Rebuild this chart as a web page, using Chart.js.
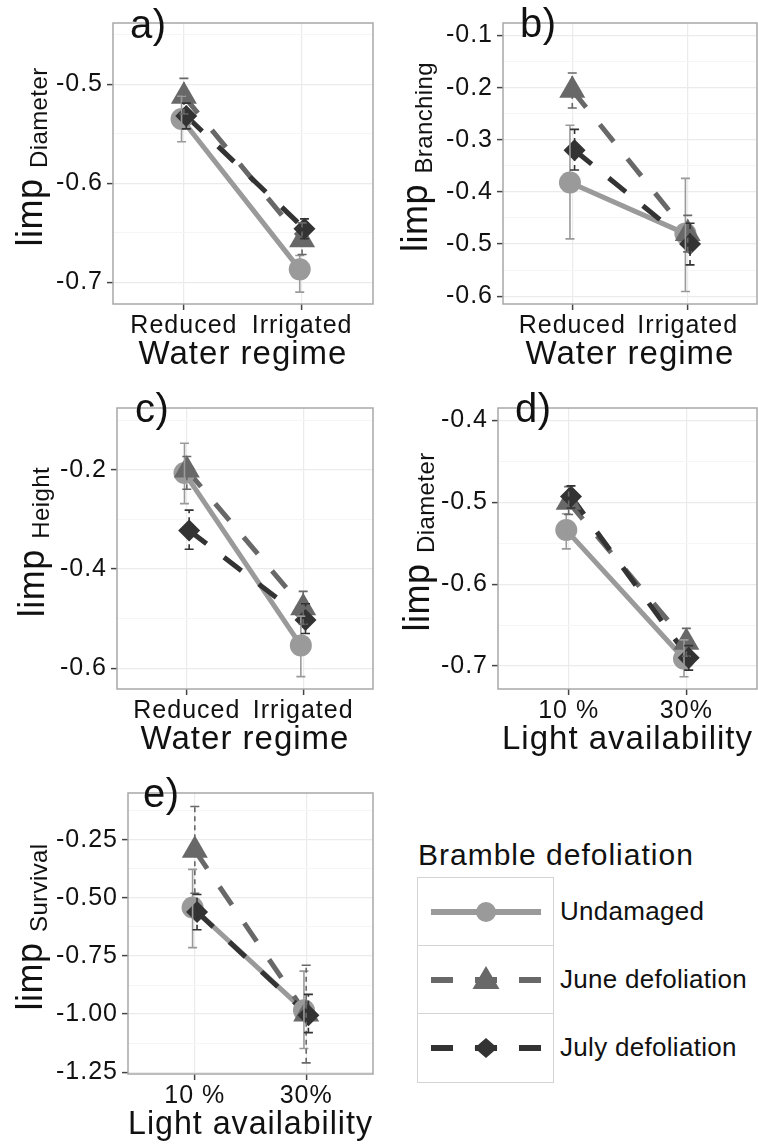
<!DOCTYPE html>
<html><head><meta charset="utf-8">
<script src="https://cdn.jsdelivr.net/npm/chart.js@4.4.1/dist/chart.umd.min.js"></script>
<style>
html,body{margin:0;padding:0;width:758px;height:1146px;overflow:hidden;background:#fff;}
body{position:relative;font-family:'Liberation Sans',Arial,sans-serif;color:#111;}
canvas{position:absolute;}
.ytitle{position:absolute;height:44px;line-height:44px;text-align:center;font-size:36px;transform:rotate(-90deg);white-space:nowrap;letter-spacing:0.5px;}
.ytitle span{font-size:24px;position:relative;top:5px;letter-spacing:0.4px;}
.plabel{position:absolute;font-size:40px;line-height:40px;white-space:nowrap;letter-spacing:0.5px;}
.legtitle{position:absolute;font-size:30px;line-height:30px;white-space:nowrap;letter-spacing:1px;}
.legkey{position:absolute;box-sizing:border-box;border:1.5px solid #d4d4d4;background:#fff;}
.leglabel{position:absolute;font-size:26px;line-height:30px;white-space:nowrap;letter-spacing:0.3px;}
svg{position:absolute;left:0;top:0;}
</style></head><body>
<script>
// ---------- categories / labels ----------
const waterCategories = ['Reduced', 'Irrigated'];
const lightCategories = ['10 %', '30%'];
const seriesNames = ['Undamaged', 'June defoliation', 'July defoliation'];

// ---------- panel a : Diameter vs water regime ----------
const aUndamaged   = [-0.535, -0.687];
const aUndamagedLo = [-0.558, -0.710];
const aUndamagedHi = [-0.512, -0.673];
const aJune   = [-0.512, -0.657];
const aJuneLo = [-0.530, -0.672];
const aJuneHi = [-0.494, -0.640];
const aJuly   = [-0.532, -0.646];
const aJulyLo = [-0.545, -0.656];
const aJulyHi = [-0.519, -0.636];
const aTicks = [-0.7, -0.6, -0.5];
const aTickLabels = ['-0.7', '-0.6', '-0.5'];
const aMinorTicks = [-0.65, -0.55, -0.45];
const aRange = [-0.722, -0.438];

// ---------- panel b : Branching vs water regime ----------
const bUndamaged   = [-0.382, -0.480];
const bUndamagedLo = [-0.490, -0.591];
const bUndamagedHi = [-0.272, -0.374];
const bJune   = [-0.205, -0.480];
const bJuneLo = [-0.239, -0.515];
const bJuneHi = [-0.172, -0.445];
const bJuly   = [-0.320, -0.500];
const bJulyLo = [-0.358, -0.540];
const bJulyHi = [-0.280, -0.460];
const bTicks = [-0.6, -0.5, -0.4, -0.3, -0.2, -0.1];
const bTickLabels = ['-0.6', '-0.5', '-0.4', '-0.3', '-0.2', '-0.1'];
const bMinorTicks = [-0.55, -0.45, -0.35, -0.25, -0.15];
const bRange = [-0.615, -0.076];

// ---------- panel c : Height vs water regime ----------
const cUndamaged   = [-0.206, -0.554];
const cUndamagedLo = [-0.268, -0.617];
const cUndamagedHi = [-0.146, -0.495];
const cJune   = [-0.200, -0.478];
const cJuneLo = [-0.239, -0.511];
const cJuneHi = [-0.173, -0.445];
const cJuly   = [-0.322, -0.503];
const cJulyLo = [-0.360, -0.530];
const cJulyHi = [-0.281, -0.470];
const cTicks = [-0.6, -0.4, -0.2];
const cTickLabels = ['-0.6', '-0.4', '-0.2'];
const cMinorTicks = [-0.5, -0.3, -0.1];
const cRange = [-0.642, -0.075];

// ---------- panel d : Diameter vs light ----------
const dUndamaged   = [-0.534, -0.691];
const dUndamagedLo = [-0.557, -0.713];
const dUndamagedHi = [-0.514, -0.668];
const dJune   = [-0.500, -0.671];
const dJuneLo = [-0.515, -0.688];
const dJuneHi = [-0.481, -0.654];
const dJuly   = [-0.493, -0.690];
const dJulyLo = [-0.507, -0.705];
const dJulyHi = [-0.480, -0.675];
const dTicks = [-0.7, -0.6, -0.5, -0.4];
const dTickLabels = ['-0.7', '-0.6', '-0.5', '-0.4'];
const dMinorTicks = [-0.65, -0.55, -0.45];
const dRange = [-0.728, -0.385];

// ---------- panel e : Survival vs light ----------
const eUndamaged   = [-0.541, -0.984];
const eUndamagedLo = [-0.714, -1.148];
const eUndamagedHi = [-0.377, -0.815];
const eJune   = [-0.295, -1.000];
const eJuneLo = [-0.480, -1.210];
const eJuneHi = [-0.106, -0.790];
const eJuly   = [-0.560, -1.005];
const eJulyLo = [-0.637, -1.080];
const eJulyHi = [-0.485, -0.915];
const eTicks = [-1.25, -1.00, -0.75, -0.50, -0.25];
const eTickLabels = ['-1.25', '-1.00', '-0.75', '-0.50', '-0.25'];
const eMinorTicks = [-1.125, -0.875, -0.625, -0.375, -0.125];
const eRange = [-1.258, -0.048];

// ---------- styles / layout ----------
const FONT = "'Liberation Sans', Arial, sans-serif";
const seriesStyle = [
  {color:'#9a9a9a', dash:[], errDash:[], pointStyle:'circle', radius:11},
  {color:'#686868', dash:[22,22], errDash:[5,4], pointStyle:'triangle', radius:15},
  {color:'#333333', dash:[22,22], errDash:[5,4], pointStyle:'rectRot', radius:11}
];
const dodge = [-0.02, 0, 0.02];
const Y_AXIS_W = 75, X_AXIS_H = 80, TOP_PAD = 6;

const panels = [
  {label:'a)', sub:'Diameter', xTitle:'Water regime', cats:waterCategories,
   series:[[aUndamaged,aUndamagedLo,aUndamagedHi],[aJune,aJuneLo,aJuneHi],[aJuly,aJulyLo,aJulyHi]],
   ticks:aTicks, tickLabels:aTickLabels, minor:aMinorTicks, range:aRange,
   box:{l:113,t:10,r:373,b:304}, titleX:29.5, labelPos:[130,4]},
  {label:'b)', sub:'Branching', xTitle:'Water regime', cats:waterCategories,
   series:[[bUndamaged,bUndamagedLo,bUndamagedHi],[bJune,bJuneLo,bJuneHi],[bJuly,bJulyLo,bJulyHi]],
   ticks:bTicks, tickLabels:bTickLabels, minor:bMinorTicks, range:bRange,
   box:{l:503,t:10,r:757,b:304}, titleX:414.5, labelPos:[520,3]},
  {label:'c)', sub:'Height', xTitle:'Water regime', cats:waterCategories,
   series:[[cUndamaged,cUndamagedLo,cUndamagedHi],[cJune,cJuneLo,cJuneHi],[cJuly,cJulyLo,cJulyHi]],
   ticks:cTicks, tickLabels:cTickLabels, minor:cMinorTicks, range:cRange,
   box:{l:117,t:395,r:373,b:689}, titleX:31.5, labelPos:[135,388]},
  {label:'d)', sub:'Diameter', xTitle:'Light availability', cats:lightCategories,
   series:[[dUndamaged,dUndamagedLo,dUndamagedHi],[dJune,dJuneLo,dJuneHi],[dJuly,dJulyLo,dJulyHi]],
   ticks:dTicks, tickLabels:dTickLabels, minor:dMinorTicks, range:dRange,
   box:{l:498,t:395,r:757,b:689}, titleX:416.5, labelPos:[515,388]},
  {label:'e)', sub:'Survival', xTitle:'Light availability', cats:lightCategories,
   series:[[eUndamaged,eUndamagedLo,eUndamagedHi],[eJune,eJuneLo,eJuneHi],[eJuly,eJulyLo,eJulyHi]],
   ticks:eTicks, tickLabels:eTickLabels, minor:eMinorTicks, range:eRange,
   box:{l:128,t:780,r:373,b:1074}, titleX:29.5, labelPos:[143,773]}
];

const decorPlugin = {
  id:'decor',
  beforeUpdate(chart){ chart.ctx.letterSpacing = '1px'; },
  beforeDraw(chart){ chart.ctx.letterSpacing = '1px'; },
  afterDatasetsDraw(chart){
    const {ctx, scales:{x, y}} = chart;
    chart.data.datasets.forEach(ds => {
      if (!ds.errLow) return;
      ctx.save();
      ctx.strokeStyle = ds.errColor;
      ctx.lineWidth = 1.6;
      ds.data.forEach((pt, i) => {
        const px = x.getPixelForValue(pt.x);
        const lo = y.getPixelForValue(ds.errLow[i]);
        const hi = y.getPixelForValue(ds.errHigh[i]);
        ctx.setLineDash(ds.errDash);
        ctx.beginPath(); ctx.moveTo(px, lo); ctx.lineTo(px, hi); ctx.stroke();
        ctx.setLineDash([]);
        ctx.beginPath();
        ctx.moveTo(px - 4.5, lo); ctx.lineTo(px + 4.5, lo);
        ctx.moveTo(px - 4.5, hi); ctx.lineTo(px + 4.5, hi);
        ctx.stroke();
      });
      ctx.restore();
    });
  },
  afterDraw(chart){
    const {ctx, chartArea:a} = chart;
    ctx.save();
    ctx.strokeStyle = '#a8a8a8';
    ctx.lineWidth = 1.5;
    ctx.strokeRect(a.left, a.top, a.right - a.left, a.bottom - a.top);
    ctx.restore();
  }
};

function buildDatasets(p){
  const ds = [];
  p.series.forEach((s, k) => {
    const st = seriesStyle[k];
    ds.push({label:seriesNames[k], data:s[0].map((v, i) => ({x:i + 1 + dodge[k], y:v})),
      borderColor:st.color, borderWidth:5, borderDash:st.dash, borderCapStyle:'butt',
      pointRadius:0, pointHoverRadius:0, fill:false, tension:0, order:6 - k});
  });
  p.series.forEach((s, k) => {
    const st = seriesStyle[k];
    ds.push({label:seriesNames[k], data:s[0].map((v, i) => ({x:i + 1 + dodge[k], y:v})),
      showLine:false, pointStyle:st.pointStyle, pointRadius:st.radius, pointHoverRadius:st.radius,
      pointBackgroundColor:st.color, pointBorderColor:st.color, pointBorderWidth:0,
      order:3 - k, errLow:s[1], errHigh:s[2], errColor:st.color, errDash:st.errDash});
  });
  return ds;
}

panels.forEach(p => {
  const bx = p.box;
  const padR = Math.min(6, 758 - bx.r);
  const left = bx.l - Y_AXIS_W, top = bx.t - TOP_PAD;
  const w = bx.r + padR - left, h = bx.b + X_AXIS_H - top;
  const cv = document.createElement('canvas');
  cv.width = w; cv.height = h;
  cv.style.left = left + 'px'; cv.style.top = top + 'px';
  cv.style.width = w + 'px'; cv.style.height = h + 'px';
  document.body.appendChild(cv);
  const isMajor = v => p.ticks.indexOf(v) >= 0;
  new Chart(cv.getContext('2d'), {
    type:'line',
    data:{datasets:buildDatasets(p)},
    options:{
      responsive:false, animation:false, devicePixelRatio:1,
      layout:{autoPadding:false, padding:{left:0, top:TOP_PAD, right:padR, bottom:0}},
      plugins:{legend:{display:false}, tooltip:{enabled:false}},
      events:[],
      scales:{
        x:{type:'linear', min:0.4, max:2.6,
          afterBuildTicks: sc => { sc.ticks = p.cats.map((c, i) => ({value:i + 1})); },
          afterFit: sc => { sc.height = X_AXIS_H; },
          ticks:{callback: v => p.cats[Math.round(v) - 1], font:{family:FONT, size:25, lineHeight:1.2},
                 color:'#111', padding:1, autoSkip:false, maxRotation:0, minRotation:0},
          grid:{color:'#ebebeb', lineWidth:1.2, tickLength:6, tickColor:'#444', tickWidth:1.5},
          border:{display:false},
          title:{display:true, text:p.xTitle, font:{family:FONT, size:33, lineHeight:1.2},
                 color:'#111', padding:{top:0, bottom:9}}
        },
        y:{type:'linear', min:p.range[0], max:p.range[1],
          afterBuildTicks: sc => { sc.ticks = p.ticks.concat(p.minor).sort((a, b) => a - b).map(v => ({value:v})); },
          afterFit: sc => { sc.width = Y_AXIS_W; },
          ticks:{callback: v => { const i = p.ticks.indexOf(v); return i >= 0 ? p.tickLabels[i] : ''; },
                 font:{family:FONT, size:25, lineHeight:1.2}, color:'#111', padding:4, autoSkip:false},
          grid:{color: c => (c.tick && isMajor(c.tick.value)) ? '#ebebeb' : '#f5f5f5',
                lineWidth: c => (c.tick && isMajor(c.tick.value)) ? 1.2 : 1,
                tickLength:6,
                tickColor: c => (c.tick && isMajor(c.tick.value)) ? '#444' : 'rgba(0,0,0,0)',
                tickWidth:1.5},
          border:{display:false}
        }
      }
    },
    plugins:[decorPlugin]
  });
  // y axis title with subscript
  const ph = bx.b - bx.t, cy = (bx.t + bx.b) / 2;
  const yt = document.createElement('div');
  yt.className = 'ytitle';
  yt.style.width = ph + 'px';
  yt.style.left = (p.titleX - ph / 2) + 'px';
  yt.style.top = (cy - 22) + 'px';
  yt.innerHTML = 'limp <span>' + p.sub + '</span>';
  document.body.appendChild(yt);
  // panel letter
  const pl = document.createElement('div');
  pl.className = 'plabel';
  pl.style.left = p.labelPos[0] + 'px';
  pl.style.top = p.labelPos[1] + 'px';
  pl.textContent = p.label;
  document.body.appendChild(pl);
});

// ---------- legend ----------
const legTitle = document.createElement('div');
legTitle.className = 'legtitle';
legTitle.style.left = '418px'; legTitle.style.top = '840px';
legTitle.textContent = 'Bramble defoliation';
document.body.appendChild(legTitle);

seriesNames.forEach((name, k) => {
  const st = seriesStyle[k];
  const rowTop = 877 + 68 * k;
  const key = document.createElement('div');
  key.className = 'legkey';
  key.style.left = '417px'; key.style.top = rowTop + 'px';
  key.style.width = '137px'; key.style.height = '69.5px';
  const cx = 68, cy = 34;
  let marker;
  if (st.pointStyle === 'circle') marker = `<circle cx="${cx}" cy="${cy}" r="10" fill="${st.color}"/>`;
  else if (st.pointStyle === 'triangle') marker = `<polygon points="${cx},${cy-14} ${cx+13.5},${cy+9} ${cx-13.5},${cy+9}" fill="${st.color}"/>`;
  else marker = `<polygon points="${cx},${cy-10} ${cx+11.5},${cy} ${cx},${cy+10} ${cx-11.5},${cy}" fill="${st.color}"/>`;
  const dash = st.dash.length ? `stroke-dasharray="${st.dash.join(' ')}"` : '';
  key.innerHTML = `<svg width="137" height="69" viewBox="0 0 137 69"><line x1="13" y1="${cy}" x2="123" y2="${cy}" stroke="${st.color}" stroke-width="6" ${dash}/>${marker}</svg>`;
  document.body.appendChild(key);
  const lab = document.createElement('div');
  lab.className = 'leglabel';
  lab.style.left = '560px'; lab.style.top = (rowTop + 34 - 15) + 'px';
  lab.textContent = name;
  document.body.appendChild(lab);
});
</script>
</body></html>
